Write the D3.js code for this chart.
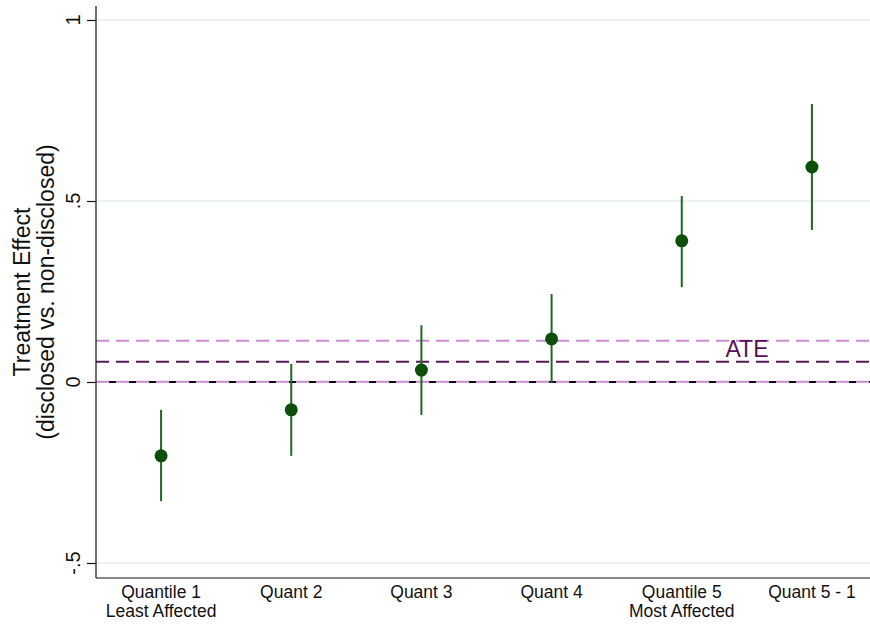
<!DOCTYPE html>
<html>
<head>
<meta charset="utf-8">
<script src="https://cdn.jsdelivr.net/npm/d3@7"></script>
<style>
  html, body { margin: 0; padding: 0; background: #fff; }
  svg { display: block; font-family: "Liberation Sans", Arial, Helvetica, sans-serif; }
</style>
</head>
<body>
<svg id="chart" width="870" height="624"></svg>
<script>
// Group labels (two lines each)
const categories = ["Quantile 1", "Quant 2", "Quant 3", "Quant 4", "Quantile 5", "Quant 5 - 1"];
const subLabels  = ["Least Affected", "", "", "", "Most Affected", ""];

// Point estimates and 95% confidence bounds per group
const estimates = [-0.204, -0.077, 0.033, 0.119, 0.390, 0.594];
const lowerCI   = [-0.329, -0.204, -0.091, -0.003, 0.262, 0.420];
const upperCI   = [-0.077, 0.050, 0.157, 0.243, 0.514, 0.768];

// Average treatment effect and its confidence band
const ate      = [0.056];
const ateBand  = [0.001, 0.114];

// Y axis ticks
const yTicks      = [-0.5, 0, 0.5, 1];
const yTickLabels = ["-.5", "0", ".5", "1"];

const svg = d3.select("#chart");

const plot = { left: 96, right: 870, top: 6, bottom: 578 };

const x = d3.scaleLinear().domain([0.5, 6.5]).range([96, 877]);
const y = d3.scaleLinear().domain([-0.5, 1]).range([563, 20]);

// Horizontal gridlines
svg.append("g").selectAll("line").data(yTicks).join("line")
  .attr("x1", plot.left).attr("x2", plot.right)
  .attr("y1", d => y(d)).attr("y2", d => y(d))
  .attr("stroke", "#e6eef1").attr("stroke-width", 1.5);

// ATE band and reference lines
const refG = svg.append("g");
refG.append("line")
  .attr("x1", plot.left).attr("x2", plot.right)
  .attr("y1", y(ateBand[1])).attr("y2", y(ateBand[1]))
  .attr("stroke", "#c88fcf").attr("stroke-width", 2).attr("stroke-dasharray", "13,7");
refG.append("line")
  .attr("x1", plot.left).attr("x2", plot.right)
  .attr("y1", y(ateBand[0])).attr("y2", y(ateBand[0]))
  .attr("stroke", "#c88fcf").attr("stroke-width", 2).attr("stroke-dasharray", "13,7");
refG.append("line")
  .attr("x1", plot.left).attr("x2", plot.right)
  .attr("y1", y(0)).attr("y2", y(0))
  .attr("stroke", "#111").attr("stroke-width", 2)
  .attr("stroke-dasharray", "7,13").attr("stroke-dashoffset", -13);
refG.append("line")
  .attr("x1", plot.left).attr("x2", plot.right)
  .attr("y1", y(ate[0])).attr("y2", y(ate[0]))
  .attr("stroke", "#561a52").attr("stroke-width", 2).attr("stroke-dasharray", "13,7");

refG.append("text")
  .attr("x", 747).attr("y", y(ate[0]) - 5)
  .attr("text-anchor", "middle")
  .attr("font-size", 23)
  .attr("fill", "#5a1055")
  .text("ATE");

// Confidence intervals
const idx = d3.range(categories.length);
svg.append("g").selectAll("line").data(idx).join("line")
  .attr("x1", i => x(i + 1)).attr("x2", i => x(i + 1))
  .attr("y1", i => y(lowerCI[i])).attr("y2", i => y(upperCI[i]))
  .attr("stroke", "#1d6a1d").attr("stroke-width", 2);

// Point estimates
svg.append("g").selectAll("circle").data(idx).join("circle")
  .attr("cx", i => x(i + 1)).attr("cy", i => y(estimates[i]))
  .attr("r", 6.5)
  .attr("fill", "#0b4f0b");

// Y axis ticks and rotated labels
const yAxis = d3.axisLeft(y).tickValues(yTicks).tickFormat("").tickSize(9);
const yG = svg.append("g").attr("transform", `translate(${plot.left},0)`).call(yAxis);
yG.select(".domain").remove();
yG.selectAll(".tick line").attr("stroke", "#111").attr("stroke-width", 1.2);
svg.append("g").selectAll("text").data(yTicks).join("text")
  .attr("transform", d => `translate(80,${y(d)}) rotate(-90)`)
  .attr("text-anchor", "middle")
  .attr("font-size", 20)
  .attr("fill", "#111")
  .text((d, i) => yTickLabels[i]);

// Axis lines
svg.append("line")
  .attr("x1", plot.left).attr("x2", plot.left)
  .attr("y1", plot.top).attr("y2", plot.bottom)
  .attr("stroke", "#111").attr("stroke-width", 1.2);
svg.append("line")
  .attr("x1", plot.left).attr("x2", plot.right)
  .attr("y1", plot.bottom).attr("y2", plot.bottom)
  .attr("stroke", "#111").attr("stroke-width", 1.2);

// X category labels
const xl = svg.append("g").selectAll("text").data(idx).join("text")
  .attr("text-anchor", "middle")
  .attr("font-size", 17.5)
  .attr("fill", "#111");
xl.append("tspan").attr("x", i => x(i + 1)).attr("y", 598).text(i => categories[i]);
xl.append("tspan").attr("x", i => x(i + 1)).attr("y", 617).text(i => subLabels[i]);

// Y axis title
const midY = (plot.top + plot.bottom) / 2;
const title = svg.append("text")
  .attr("transform", `translate(0,${midY}) rotate(-90)`)
  .attr("text-anchor", "middle")
  .attr("font-size", 23)
  .attr("fill", "#111");
title.append("tspan").attr("x", 0).attr("y", 30).text("Treatment Effect");
title.append("tspan").attr("x", 0).attr("y", 54).text("(disclosed vs. non-disclosed)");
</script>
</body>
</html>
